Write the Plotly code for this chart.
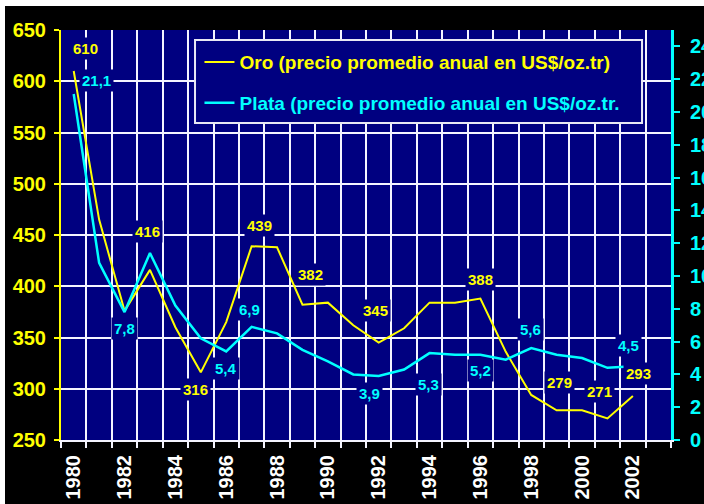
import plotly.graph_objects as go

# ---------------- data ----------------
years = list(range(1980, 2003))
oro = [610, 465, 376, 416, 360, 316, 365, 439, 438, 382, 384, 362, 345,
       359, 384, 384, 388, 336, 294, 279, 279, 271, 293]
plata = [21.1, 10.8, 7.8, 11.4, 8.2, 6.2, 5.4, 6.9, 6.5, 5.5, 4.8, 4.0, 3.9,
         4.3, 5.3, 5.2, 5.2, 4.9, 5.6, 5.2, 5.0, 4.4, 4.5]
x_tick_years = list(range(1980, 2003, 2))
x_tick_labels = [str(y) for y in x_tick_years]
oro_ticks = list(range(250, 651, 50))
plata_ticks = list(range(0, 25, 2))
oro_label_years = [1980, 1983, 1985, 1987, 1989, 1992, 1996, 1999, 2001, 2002]
plata_label_years = [1980, 1982, 1986, 1987, 1992, 1994, 1996, 1998, 2002]
name_oro = "Oro (precio promedio anual en US$/oz.tr)"
name_plata = "Plata (precio promedio anual en US$/oz.tr."

# ---------------- style ----------------
GOLD = "#FFFF00"
SILVER = "#00FFFF"
NAVY = "#000080"
GRID = "#F4F4FF"
FONT = "Liberation Sans, Arial, sans-serif"

# label offsets in pixels (dx, dy up)
oro_off = {1980: (12, 23), 1983: (-2, 38), 1985: (-5, -17), 1987: (8, 21),
           1989: (8, 30), 1992: (-3, 32), 1996: (0, 19), 1999: (3, 28),
           2001: (-8, 27), 2002: (6, 22)}
plata_off = {1980: (23, 13), 1982: (0, -16), 1986: (0, -17), 1987: (-2, 17),
             1992: (-9, -17), 1994: (-1, -31), 1996: (0, -16), 1998: (-1, 19),
             2002: (-4, 21)}

fig = go.Figure()
fig.add_trace(go.Scatter(
    x=years, y=oro, mode="lines", yaxis="y", legendgroup="oro",
    name=f"<span style='color:{GOLD}'>{name_oro}</span>",
    line=dict(color=GOLD, width=2)))
fig.add_trace(go.Scatter(
    x=years, y=plata, mode="lines", yaxis="y2", legendgroup="plata",
    name=f"<span style='color:{SILVER}'>{name_plata}</span>",
    line=dict(color=SILVER, width=2.5)))

annotations = []
for yr in oro_label_years:
    v = oro[years.index(yr)]
    dx, dy = oro_off[yr]
    annotations.append(dict(
        x=yr, y=v, xref="x", yref="y", text=f"{v:d}", showarrow=False,
        xshift=dx, yshift=dy, bgcolor=NAVY, borderpad=2,
        font=dict(family=FONT, size=15, color=GOLD, weight="bold")))
for yr in plata_label_years:
    v = plata[years.index(yr)]
    dx, dy = plata_off[yr]
    annotations.append(dict(
        x=yr, y=v, xref="x", yref="y2", text=f"{v:.1f}".replace(".", ","),
        showarrow=False, xshift=dx, yshift=dy, bgcolor=NAVY, borderpad=2,
        font=dict(family=FONT, size=15, color=SILVER, weight="bold")))

shapes = [
    # legend box
    dict(type="rect", xref="paper", yref="paper", x0=0.2197, x1=0.9525,
         y0=0.7732, y1=0.9756, fillcolor=NAVY,
         line=dict(color="#E8E8F4", width=2), layer="above"),
    # white strips at top and left of the picture
    dict(type="rect", xref="paper", yref="paper", x0=-0.2, x1=1.2,
         y0=1.0585, y1=1.2, fillcolor="white", line=dict(width=0)),
    dict(type="rect", xref="paper", yref="paper", x0=-0.2, x1=-0.0918,
         y0=-0.3, y1=1.2, fillcolor="white", line=dict(width=0)),
]

fig.update_layout(
    width=704, height=504,
    margin=dict(l=61, r=33, t=30, b=64, autoexpand=False),
    paper_bgcolor="black", plot_bgcolor=NAVY,
    font=dict(family=FONT, weight="bold", color="white"),
    showlegend=True,
    legend=dict(x=0.227, y=0.968, xanchor="left", yanchor="top",
                bgcolor="rgba(0,0,0,0)", borderwidth=0, tracegroupgap=13,
                font=dict(family=FONT, size=19, weight="bold")),
    annotations=annotations,
    shapes=shapes,
    xaxis=dict(
        range=[1979.5, 2003.5], tickmode="array", tickvals=x_tick_years,
        ticktext=x_tick_labels, tickangle=-90, ticks="", showgrid=False,
        ticklabelstandoff=5,
        tickfont=dict(family=FONT, size=20, color="white", weight="bold"),
        showline=True, linecolor=GRID, linewidth=2, zeroline=False,
        automargin=False,
        minor=dict(tickmode="array",
                   tickvals=[y - 0.5 for y in range(1980, 2005)],
                   showgrid=True, gridcolor=GRID, gridwidth=1.5,
                   ticks="outside", ticklen=6, tickcolor=GRID, tickwidth=1.5)),
    yaxis=dict(
        range=[250, 650], tickmode="array", tickvals=oro_ticks,
        showgrid=True, gridcolor=GRID, gridwidth=1.5,
        ticks="outside", ticklen=5, tickcolor=GOLD, tickwidth=2,
        showline=True, linecolor=GOLD, linewidth=2, zeroline=False,
        ticklabelstandoff=4, automargin=False,
        tickfont=dict(family=FONT, size=20, color=GOLD, weight="bold")),
    yaxis2=dict(
        range=[0, 25], tickmode="array", tickvals=plata_ticks,
        overlaying="y", side="right", showgrid=False,
        ticks="outside", ticklen=6, tickcolor=SILVER, tickwidth=2,
        showline=True, linecolor=SILVER, linewidth=3, zeroline=False,
        ticklabelstandoff=6, automargin=False,
        tickfont=dict(family=FONT, size=20, color=SILVER, weight="bold")),
)

fig.write_html(
    "out.html",
    config={"displayModeBar": False},
    post_script="document.body.style.margin='0px';"
                "document.body.style.overflow='hidden';")
